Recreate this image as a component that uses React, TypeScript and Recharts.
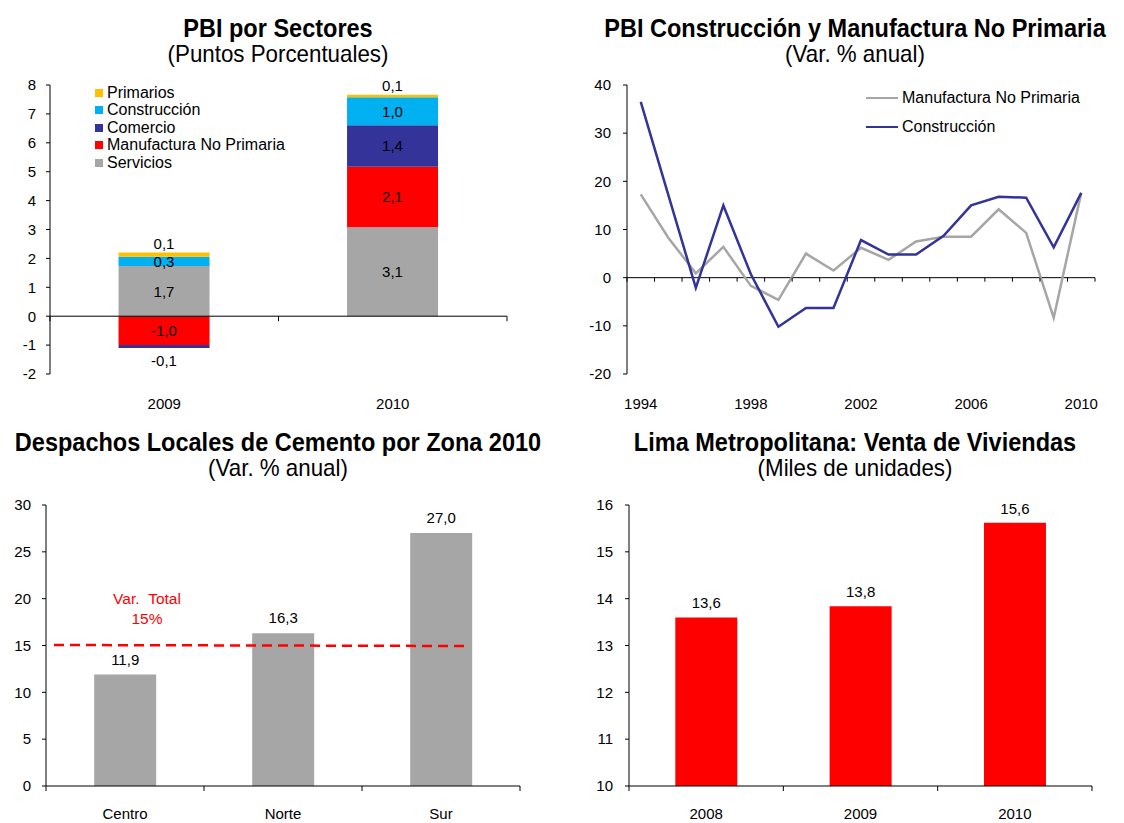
import React from "react";
import {
  Bar,
  BarChart,
  LabelList,
  Legend,
  Line,
  LineChart,
  ReferenceLine,
  XAxis,
  YAxis,
} from "recharts";

// --- PBI por Sectores ---
const sectorYears = ["2009", "2010"];
const servicios = [1.74, 3.08];
const manufactura = [-1.0, 2.09];
const comercio = [-0.1, 1.44];
const construccion = [0.32, 0.97];
const primarios = [0.14, 0.08];
const sectorTicks = [-2, -1, 0, 1, 2, 3, 4, 5, 6, 7, 8];

// --- PBI Construcción y Manufactura No Primaria ---
const lineYears = [
  "1994", "1995", "1996", "1997", "1998", "1999", "2000", "2001", "2002",
  "2003", "2004", "2005", "2006", "2007", "2008", "2009", "2010",
];
const manufNoPrimaria = [17.3, 8.3, 0.9, 6.4, -1.7, -4.6, 5.0, 1.5, 6.2, 3.7, 7.5, 8.5, 8.5, 14.2, 9.3, -8.3, 17.6];
const construccionVar = [36.5, 17.2, -2.1, 15.0, 0.7, -10.2, -6.3, -6.3, 7.8, 4.8, 4.8, 8.7, 15.0, 16.8, 16.6, 6.3, 17.6];
const lineTicks = [-20, -10, 0, 10, 20, 30, 40];

// --- Despachos de cemento ---
const zonas = ["Centro", "Norte", "Sur"];
const despachos = [11.9, 16.3, 27.0];
const varTotal = 15;
const cementoTicks = [0, 5, 10, 15, 20, 25, 30];

// --- Venta de viviendas ---
const viviendaYears = ["2008", "2009", "2010"];
const ventas = [13.6, 13.84, 15.62];
const viviendaTicks = [10, 11, 12, 13, 14, 15, 16];

const FONT = '"Liberation Sans", Arial, sans-serif';
const GRAY = "#A6A6A6";
const RED = "#FF0000";
const NAVY = "#333399";
const CYAN = "#00B0F0";
const GOLD = "#FFC000";

const fmt = (v: number) => Number(v).toFixed(1).replace(".", ",");

const sectorData = sectorYears.map((year, i) => ({
  year,
  servicios: servicios[i],
  manufactura: manufactura[i],
  comercio: comercio[i],
  construccion: construccion[i],
  primarios: primarios[i],
}));

const sectorLegend = [
  { name: "Primarios", color: GOLD },
  { name: "Construcción", color: CYAN },
  { name: "Comercio", color: NAVY },
  { name: "Manufactura No Primaria", color: RED },
  { name: "Servicios", color: GRAY },
];

const lineData = lineYears.map((year, i) => ({
  year,
  manuf: manufNoPrimaria[i],
  constr: construccionVar[i],
}));

const lineLegend = [
  { name: "Manufactura No Primaria", color: GRAY },
  { name: "Construcción", color: NAVY },
];

const cementoData = zonas.map((zona, i) => ({ zona, value: despachos[i] }));
const viviendaData = viviendaYears.map((year, i) => ({ year, value: ventas[i] }));

const axisProps = {
  axisLine: { stroke: "#000" },
  tickLine: { stroke: "#000" },
  tick: { fill: "#000", fontSize: 15 },
  tickSize: 4,
  interval: 0 as const,
};

// category tick: label under the plot, tick marks between categories
// on the axis line (which may sit `drop` px above the plot bottom)
type TickOpts = { band: number; count: number; drop: number; margin: number; every: number; len: number };
const catTick = (o: TickOpts) => (p: any) => {
  const { x, y, payload, index } = p;
  const axisY = y - o.margin - o.drop;
  const marks = [x - o.band / 2];
  if (index === o.count - 1) marks.push(x + o.band / 2);
  return (
    <g>
      {marks.map((mx) => (
        <line key={mx} x1={mx} x2={mx} y1={axisY} y2={axisY + o.len} stroke="#000" />
      ))}
      {index % o.every === 0 && (
        <text x={x} y={y} dy="0.71em" textAnchor="middle" fontSize={15} fill="#000">
          {payload.value}
        </text>
      )}
    </g>
  );
};

function Title({ left, top, title, sub }: { left: number; top: number; title: string; sub: string }) {
  return (
    <>
      <div
        style={{
          position: "absolute",
          left: left - 300,
          top,
          width: 600,
          textAlign: "center",
          fontWeight: "bold",
          fontSize: 25,
          lineHeight: "30px",
          transform: "scaleX(0.94)",
        }}
      >
        {title}
      </div>
      <div
        style={{
          position: "absolute",
          left: left - 300,
          top: top + 27,
          width: 600,
          textAlign: "center",
          fontSize: 24,
          lineHeight: "28px",
          transform: "scaleX(0.93)",
        }}
      >
        {sub}
      </div>
    </>
  );
}

const SectorLegend = () => (
  <div style={{ fontSize: 16, color: "#000" }}>
    {sectorLegend.map((s) => (
      <div key={s.name} style={{ display: "flex", alignItems: "center", height: 17.5, whiteSpace: "nowrap" }}>
        <span style={{ width: 8, height: 8, background: s.color, marginRight: 4 }} />
        <span>{s.name}</span>
      </div>
    ))}
  </div>
);

const LineLegend = () => (
  <div style={{ fontSize: 16, color: "#000" }}>
    {lineLegend.map((s) => (
      <div key={s.name} style={{ display: "flex", alignItems: "center", height: 29, whiteSpace: "nowrap" }}>
        <span style={{ width: 32, height: 2.5, background: s.color, marginRight: 4 }} />
        <span>{s.name}</span>
      </div>
    ))}
  </div>
);

const box = (p: any) => {
  const vb = p.viewBox ?? p;
  return { x: Number(vb.x), y: Number(vb.y), width: Number(vb.width), height: Number(vb.height) };
};

const centerLabel = (p: any) => {
  const { x, y, width, height } = box(p);
  return (
    <text x={x + width / 2} y={y + height / 2} textAnchor="middle" dominantBaseline="central" fontSize={15} fill="#000">
      {fmt(p.value)}
    </text>
  );
};

const comercioLabel = (p: any) => {
  const { x, y, width, height } = box(p);
  const bottom = Math.max(y, y + height);
  const cy = p.value < 0 ? bottom + 13 : y + height / 2;
  return (
    <text x={x + width / 2} y={cy} textAnchor="middle" dominantBaseline="central" fontSize={15} fill="#000">
      {fmt(p.value)}
    </text>
  );
};

const varTotalLabel = (p: any) => {
  const { x, y } = box(p);
  return (
    <g fontSize={15.5} fill={RED} textAnchor="middle">
      <text x={x + 101} y={y - 42}>{"Var.\u00a0\u00a0Total"}</text>
      <text x={x + 101} y={y - 22}>{`${varTotal}%`}</text>
    </g>
  );
};

// dashed total line, not running the full plot width as in the original
const varTotalShape = (p: any) => (
  <line
    x1={p.x1 + 8}
    y1={p.y1 - 0.5}
    x2={p.x2 - 54}
    y2={p.y2 + 0.5}
    stroke={RED}
    strokeWidth={2.5}
    strokeDasharray="10 6"
  />
);

export default function App() {
  return (
    <div style={{ position: "absolute", left: 0, top: 0, width: 1124, height: 823, fontFamily: FONT, background: "#fff", color: "#000" }}>
      <Title left={278} top={13} title="PBI por Sectores" sub="(Puntos Porcentuales)" />
      <Title left={855} top={13} title="PBI Construcción y Manufactura No Primaria" sub="(Var. % anual)" />
      <Title left={278} top={427} title="Despachos Locales de Cemento por Zona 2010" sub="(Var. % anual)" />
      <Title left={855} top={427} title="Lima Metropolitana: Venta de Viviendas" sub="(Miles de unidades)" />

      <div style={{ position: "absolute", left: 0, top: 75 }}>
        <BarChart
          width={540}
          height={345}
          data={sectorData}
          stackOffset="sign"
          barCategoryGap="30%"
          margin={{ top: 10, right: 33, bottom: 6, left: 10 }}
        >
          <XAxis
            dataKey="year"
            axisLine={false}
            tickLine={false}
            tickSize={0}
            tickMargin={24}
            height={40}
            interval={0}
            tick={catTick({ band: 228.5, count: sectorYears.length, drop: 57.8, margin: 24, every: 1, len: 5 })}
          />
          <YAxis domain={[-2, 8]} ticks={sectorTicks} width={40} tickMargin={10} {...axisProps} />
          <Legend
            layout="horizontal"
            verticalAlign="middle"
            align="center"
            content={SectorLegend}
            wrapperStyle={{ top: 9, left: 95, width: "auto" }}
          />
          <Bar dataKey="servicios" stackId="s" fill={GRAY} isAnimationActive={false}>
            <LabelList dataKey="servicios" content={centerLabel} />
          </Bar>
          <Bar dataKey="manufactura" stackId="s" fill={RED} isAnimationActive={false}>
            <LabelList dataKey="manufactura" content={centerLabel} />
          </Bar>
          <Bar dataKey="comercio" stackId="s" fill={NAVY} isAnimationActive={false}>
            <LabelList dataKey="comercio" content={comercioLabel} />
          </Bar>
          <Bar dataKey="construccion" stackId="s" fill={CYAN} isAnimationActive={false}>
            <LabelList dataKey="construccion" content={centerLabel} />
          </Bar>
          <Bar dataKey="primarios" stackId="s" fill={GOLD} isAnimationActive={false}>
            <LabelList dataKey="primarios" position="top" offset={4} formatter={fmt} fill="#000" fontSize={15} />
          </Bar>
          <ReferenceLine y={0} stroke="#000" />
        </BarChart>
      </div>

      <div style={{ position: "absolute", left: 580, top: 75 }}>
        <LineChart width={540} height={345} data={lineData} margin={{ top: 10, right: 25, bottom: 6, left: 10 }}>
          <XAxis
            dataKey="year"
            axisLine={false}
            tickLine={false}
            tickSize={0}
            tickMargin={24}
            height={40}
            interval={0}
            padding={{ left: 13.76, right: 13.76 }}
            tick={catTick({ band: 27.53, count: lineYears.length, drop: 96.3, margin: 24, every: 4, len: 4 })}
          />
          <YAxis domain={[-20, 40]} ticks={lineTicks} width={37} tickMargin={12} {...axisProps} />
          <Legend
            layout="horizontal"
            verticalAlign="middle"
            align="center"
            content={LineLegend}
            wrapperStyle={{ top: 8.5, left: 286, width: "auto" }}
          />
          <ReferenceLine y={0} stroke="#000" />
          <Line dataKey="manuf" stroke={GRAY} strokeWidth={2.5} dot={false} isAnimationActive={false} />
          <Line dataKey="constr" stroke={NAVY} strokeWidth={2.5} dot={false} isAnimationActive={false} />
        </LineChart>
      </div>

      <div style={{ position: "absolute", left: 0, top: 495 }}>
        <BarChart width={540} height={328} data={cementoData} barCategoryGap="30.5%" margin={{ top: 10, right: 20, bottom: 2, left: 10 }}>
          <XAxis
            dataKey="zona"
            axisLine={{ stroke: "#000" }}
            tickLine={false}
            tickSize={0}
            tickMargin={22}
            height={35}
            interval={0}
            tick={catTick({ band: 158, count: zonas.length, drop: 0, margin: 22, every: 1, len: 5 })}
          />
          <YAxis domain={[0, 30]} ticks={cementoTicks} width={36} tickMargin={11} {...axisProps} />
          <Bar dataKey="value" fill={GRAY} isAnimationActive={false}>
            <LabelList dataKey="value" position="top" offset={10} formatter={fmt} fill="#000" fontSize={15} />
          </Bar>
          <ReferenceLine y={varTotal} shape={varTotalShape} label={varTotalLabel} />
        </BarChart>
      </div>

      <div style={{ position: "absolute", left: 580, top: 495 }}>
        <BarChart width={540} height={328} data={viviendaData} barCategoryGap="30%" margin={{ top: 10, right: 28, bottom: 2, left: 10 }}>
          <XAxis
            dataKey="year"
            axisLine={{ stroke: "#000" }}
            tickLine={false}
            tickSize={0}
            tickMargin={22}
            height={35}
            interval={0}
            tick={catTick({ band: 154.33, count: viviendaYears.length, drop: 0, margin: 22, every: 1, len: 5 })}
          />
          <YAxis domain={[10, 16]} ticks={viviendaTicks} width={39} tickMargin={12} {...axisProps} />
          <Bar dataKey="value" fill={RED} isAnimationActive={false}>
            <LabelList dataKey="value" position="top" offset={9} formatter={fmt} fill="#000" fontSize={15} />
          </Bar>
        </BarChart>
      </div>
    </div>
  );
}
